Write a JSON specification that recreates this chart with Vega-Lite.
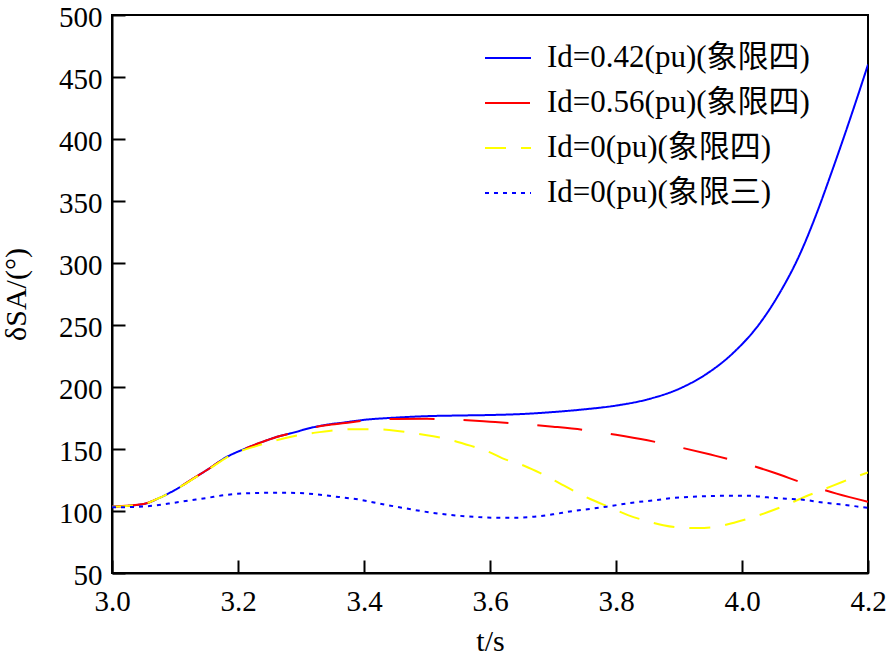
{
  "$schema": "https://vega.github.io/schema/vega-lite/v6.json",
  "autosize": {"type": "none"},
  "width": 756,
  "height": 558,
  "padding": {"left": 112, "top": 15, "right": 23, "bottom": 84},
  "background": "white",
  "config": {
    "font": "Liberation Serif, Noto Sans CJK SC",
    "view": {"stroke": "black", "strokeWidth": 2},
    "axis": {
      "domainColor": "black", "domainWidth": 2,
      "tickColor": "black", "tickWidth": 2, "tickSize": -13,
      "labelFont": "Liberation Serif", "labelFontSize": 29, "labelColor": "black",
      "titleFont": "Liberation Serif", "titleFontSize": 30, "titleFontWeight": "normal", "titleColor": "black",
      "grid": false
    },
    "legend": {
      "labelFont": "Liberation Serif, Noto Sans CJK SC", "labelFontSize": 31, "labelColor": "black", "labelLimit": 500
    }
  },
  "data": {"values": [
    {"s": "Id=0.42(pu)(象限四)", "t": 3.0, "v": 103.5},
    {"s": "Id=0.42(pu)(象限四)", "t": 3.05, "v": 105.6},
    {"s": "Id=0.42(pu)(象限四)", "t": 3.075, "v": 110.5},
    {"s": "Id=0.42(pu)(象限四)", "t": 3.1, "v": 117},
    {"s": "Id=0.42(pu)(象限四)", "t": 3.13, "v": 126.5},
    {"s": "Id=0.42(pu)(象限四)", "t": 3.155, "v": 134.5},
    {"s": "Id=0.42(pu)(象限四)", "t": 3.18, "v": 143},
    {"s": "Id=0.42(pu)(象限四)", "t": 3.21, "v": 150},
    {"s": "Id=0.42(pu)(象限四)", "t": 3.235, "v": 155},
    {"s": "Id=0.42(pu)(象限四)", "t": 3.26, "v": 159.5},
    {"s": "Id=0.42(pu)(象限四)", "t": 3.29, "v": 163.5},
    {"s": "Id=0.42(pu)(象限四)", "t": 3.315, "v": 167},
    {"s": "Id=0.42(pu)(象限四)", "t": 3.34, "v": 169.5},
    {"s": "Id=0.42(pu)(象限四)", "t": 3.37, "v": 171.5},
    {"s": "Id=0.42(pu)(象限四)", "t": 3.4, "v": 173.5},
    {"s": "Id=0.42(pu)(象限四)", "t": 3.45, "v": 175.3},
    {"s": "Id=0.42(pu)(象限四)", "t": 3.5, "v": 176.5},
    {"s": "Id=0.42(pu)(象限四)", "t": 3.55, "v": 177},
    {"s": "Id=0.42(pu)(象限四)", "t": 3.6, "v": 177.4},
    {"s": "Id=0.42(pu)(象限四)", "t": 3.65, "v": 178.2},
    {"s": "Id=0.42(pu)(象限四)", "t": 3.7, "v": 179.8},
    {"s": "Id=0.42(pu)(象限四)", "t": 3.75, "v": 182},
    {"s": "Id=0.42(pu)(象限四)", "t": 3.8, "v": 185},
    {"s": "Id=0.42(pu)(象限四)", "t": 3.85, "v": 190},
    {"s": "Id=0.42(pu)(象限四)", "t": 3.9, "v": 198.5},
    {"s": "Id=0.42(pu)(象限四)", "t": 3.945, "v": 211},
    {"s": "Id=0.42(pu)(象限四)", "t": 3.985, "v": 227},
    {"s": "Id=0.42(pu)(象限四)", "t": 4.03, "v": 252.5},
    {"s": "Id=0.42(pu)(象限四)", "t": 4.06, "v": 276},
    {"s": "Id=0.42(pu)(象限四)", "t": 4.09, "v": 305},
    {"s": "Id=0.42(pu)(象限四)", "t": 4.12, "v": 342},
    {"s": "Id=0.42(pu)(象限四)", "t": 4.14, "v": 370},
    {"s": "Id=0.42(pu)(象限四)", "t": 4.16, "v": 399},
    {"s": "Id=0.42(pu)(象限四)", "t": 4.18, "v": 429},
    {"s": "Id=0.42(pu)(象限四)", "t": 4.2, "v": 460},

    {"s": "Id=0.56(pu)(象限四)", "t": 3.0, "v": 103.5},
    {"s": "Id=0.56(pu)(象限四)", "t": 3.05, "v": 105.6},
    {"s": "Id=0.56(pu)(象限四)", "t": 3.075, "v": 110.5},
    {"s": "Id=0.56(pu)(象限四)", "t": 3.1, "v": 117},
    {"s": "Id=0.56(pu)(象限四)", "t": 3.13, "v": 126.5},
    {"s": "Id=0.56(pu)(象限四)", "t": 3.155, "v": 134.5},
    {"s": "Id=0.56(pu)(象限四)", "t": 3.18, "v": 143},
    {"s": "Id=0.56(pu)(象限四)", "t": 3.21, "v": 150},
    {"s": "Id=0.56(pu)(象限四)", "t": 3.235, "v": 155},
    {"s": "Id=0.56(pu)(象限四)", "t": 3.26, "v": 159.5},
    {"s": "Id=0.56(pu)(象限四)", "t": 3.29, "v": 163.5},
    {"s": "Id=0.56(pu)(象限四)", "t": 3.315, "v": 166.8},
    {"s": "Id=0.56(pu)(象限四)", "t": 3.34, "v": 169.2},
    {"s": "Id=0.56(pu)(象限四)", "t": 3.37, "v": 171},
    {"s": "Id=0.56(pu)(象限四)", "t": 3.4, "v": 172.8},
    {"s": "Id=0.56(pu)(象限四)", "t": 3.45, "v": 174.2},
    {"s": "Id=0.56(pu)(象限四)", "t": 3.5, "v": 174.3},
    {"s": "Id=0.56(pu)(象限四)", "t": 3.55, "v": 173.5},
    {"s": "Id=0.56(pu)(象限四)", "t": 3.6, "v": 172},
    {"s": "Id=0.56(pu)(象限四)", "t": 3.65, "v": 170.3},
    {"s": "Id=0.56(pu)(象限四)", "t": 3.7, "v": 168},
    {"s": "Id=0.56(pu)(象限四)", "t": 3.75, "v": 165.3},
    {"s": "Id=0.56(pu)(象限四)", "t": 3.8, "v": 161.5},
    {"s": "Id=0.56(pu)(象限四)", "t": 3.85, "v": 157},
    {"s": "Id=0.56(pu)(象限四)", "t": 3.9, "v": 151.5},
    {"s": "Id=0.56(pu)(象限四)", "t": 3.95, "v": 145.5},
    {"s": "Id=0.56(pu)(象限四)", "t": 4.0, "v": 139},
    {"s": "Id=0.56(pu)(象限四)", "t": 4.05, "v": 131},
    {"s": "Id=0.56(pu)(象限四)", "t": 4.1, "v": 122},
    {"s": "Id=0.56(pu)(象限四)", "t": 4.15, "v": 114},
    {"s": "Id=0.56(pu)(象限四)", "t": 4.2, "v": 107.5},

    {"s": "Id=0(pu)(象限四)", "t": 3.0, "v": 103.5},
    {"s": "Id=0(pu)(象限四)", "t": 3.05, "v": 105.6},
    {"s": "Id=0(pu)(象限四)", "t": 3.075, "v": 110.5},
    {"s": "Id=0(pu)(象限四)", "t": 3.1, "v": 117},
    {"s": "Id=0(pu)(象限四)", "t": 3.13, "v": 126.3},
    {"s": "Id=0(pu)(象限四)", "t": 3.155, "v": 134.2},
    {"s": "Id=0(pu)(象限四)", "t": 3.18, "v": 142.5},
    {"s": "Id=0(pu)(象限四)", "t": 3.2, "v": 147.5},
    {"s": "Id=0(pu)(象限四)", "t": 3.23, "v": 152.5},
    {"s": "Id=0(pu)(象限四)", "t": 3.26, "v": 157},
    {"s": "Id=0(pu)(象限四)", "t": 3.29, "v": 160.5},
    {"s": "Id=0(pu)(象限四)", "t": 3.32, "v": 163},
    {"s": "Id=0(pu)(象限四)", "t": 3.35, "v": 165},
    {"s": "Id=0(pu)(象限四)", "t": 3.38, "v": 166},
    {"s": "Id=0(pu)(象限四)", "t": 3.41, "v": 166},
    {"s": "Id=0(pu)(象限四)", "t": 3.45, "v": 164.8},
    {"s": "Id=0(pu)(象限四)", "t": 3.48, "v": 162.7},
    {"s": "Id=0(pu)(象限四)", "t": 3.51, "v": 160.2},
    {"s": "Id=0(pu)(象限四)", "t": 3.54, "v": 157},
    {"s": "Id=0(pu)(象限四)", "t": 3.57, "v": 152.5},
    {"s": "Id=0(pu)(象限四)", "t": 3.6, "v": 147.3},
    {"s": "Id=0(pu)(象限四)", "t": 3.62, "v": 142.5},
    {"s": "Id=0(pu)(象限四)", "t": 3.655, "v": 136.3},
    {"s": "Id=0(pu)(象限四)", "t": 3.68, "v": 130.5},
    {"s": "Id=0(pu)(象限四)", "t": 3.71, "v": 122.5},
    {"s": "Id=0(pu)(象限四)", "t": 3.73, "v": 117},
    {"s": "Id=0(pu)(象限四)", "t": 3.76, "v": 109.5},
    {"s": "Id=0(pu)(象限四)", "t": 3.79, "v": 103},
    {"s": "Id=0(pu)(象限四)", "t": 3.82, "v": 96.5},
    {"s": "Id=0(pu)(象限四)", "t": 3.845, "v": 92.5},
    {"s": "Id=0(pu)(象限四)", "t": 3.875, "v": 88.5},
    {"s": "Id=0(pu)(象限四)", "t": 3.9, "v": 86.7},
    {"s": "Id=0(pu)(象限四)", "t": 3.93, "v": 86.3},
    {"s": "Id=0(pu)(象限四)", "t": 3.96, "v": 87.4},
    {"s": "Id=0(pu)(象限四)", "t": 3.99, "v": 91},
    {"s": "Id=0(pu)(象限四)", "t": 4.015, "v": 94.6},
    {"s": "Id=0(pu)(象限四)", "t": 4.05, "v": 100.8},
    {"s": "Id=0(pu)(象限四)", "t": 4.07, "v": 104.8},
    {"s": "Id=0(pu)(象限四)", "t": 4.1, "v": 111.5},
    {"s": "Id=0(pu)(象限四)", "t": 4.13, "v": 117.5},
    {"s": "Id=0(pu)(象限四)", "t": 4.16, "v": 123.6},
    {"s": "Id=0(pu)(象限四)", "t": 4.18, "v": 127.5},
    {"s": "Id=0(pu)(象限四)", "t": 4.2, "v": 131},

    {"s": "Id=0(pu)(象限三)", "t": 3.0, "v": 103},
    {"s": "Id=0(pu)(象限三)", "t": 3.03, "v": 103.2},
    {"s": "Id=0(pu)(象限三)", "t": 3.06, "v": 104},
    {"s": "Id=0(pu)(象限三)", "t": 3.09, "v": 106},
    {"s": "Id=0(pu)(象限三)", "t": 3.12, "v": 108.3},
    {"s": "Id=0(pu)(象限三)", "t": 3.15, "v": 110.5},
    {"s": "Id=0(pu)(象限三)", "t": 3.18, "v": 112.9},
    {"s": "Id=0(pu)(象限三)", "t": 3.22, "v": 114.4},
    {"s": "Id=0(pu)(象限三)", "t": 3.27, "v": 114.8},
    {"s": "Id=0(pu)(象限三)", "t": 3.31, "v": 114.1},
    {"s": "Id=0(pu)(象限三)", "t": 3.36, "v": 111.3},
    {"s": "Id=0(pu)(象限三)", "t": 3.39, "v": 109.4},
    {"s": "Id=0(pu)(象限三)", "t": 3.43, "v": 105.4},
    {"s": "Id=0(pu)(象限三)", "t": 3.46, "v": 102.7},
    {"s": "Id=0(pu)(象限三)", "t": 3.49, "v": 100},
    {"s": "Id=0(pu)(象限三)", "t": 3.52, "v": 97.8},
    {"s": "Id=0(pu)(象限三)", "t": 3.55, "v": 96.2},
    {"s": "Id=0(pu)(象限三)", "t": 3.58, "v": 95.1},
    {"s": "Id=0(pu)(象限三)", "t": 3.61, "v": 94.6},
    {"s": "Id=0(pu)(象限三)", "t": 3.64, "v": 94.6},
    {"s": "Id=0(pu)(象限三)", "t": 3.67, "v": 95.4},
    {"s": "Id=0(pu)(象限三)", "t": 3.7, "v": 97.3},
    {"s": "Id=0(pu)(象限三)", "t": 3.73, "v": 99.8},
    {"s": "Id=0(pu)(象限三)", "t": 3.755, "v": 101.4},
    {"s": "Id=0(pu)(象限三)", "t": 3.785, "v": 103.5},
    {"s": "Id=0(pu)(象限三)", "t": 3.83, "v": 107},
    {"s": "Id=0(pu)(象限三)", "t": 3.86, "v": 108.6},
    {"s": "Id=0(pu)(象限三)", "t": 3.89, "v": 110.5},
    {"s": "Id=0(pu)(象限三)", "t": 3.92, "v": 111.5},
    {"s": "Id=0(pu)(象限三)", "t": 3.95, "v": 112.1},
    {"s": "Id=0(pu)(象限三)", "t": 3.98, "v": 112.3},
    {"s": "Id=0(pu)(象限三)", "t": 4.01, "v": 112.3},
    {"s": "Id=0(pu)(象限三)", "t": 4.04, "v": 111},
    {"s": "Id=0(pu)(象限三)", "t": 4.07, "v": 109.9},
    {"s": "Id=0(pu)(象限三)", "t": 4.1, "v": 108.9},
    {"s": "Id=0(pu)(象限三)", "t": 4.125, "v": 107},
    {"s": "Id=0(pu)(象限三)", "t": 4.155, "v": 105.4},
    {"s": "Id=0(pu)(象限三)", "t": 4.185, "v": 103.5},
    {"s": "Id=0(pu)(象限三)", "t": 4.2, "v": 102.5}
  ]},
  "mark": {"type": "line", "interpolate": "monotone", "strokeWidth": 2, "clip": true},
  "encoding": {
    "x": {
      "field": "t", "type": "quantitative",
      "scale": {"domain": [3.0, 4.2], "nice": false, "zero": false},
      "axis": {"values": [3.0, 3.2, 3.4, 3.6, 3.8, 4.0, 4.2], "format": ".1f", "labelPadding": 27, "title": "t/s", "titlePadding": 10, "labelFlush": false}
    },
    "y": {
      "field": "v", "type": "quantitative",
      "scale": {"domain": [50, 500], "nice": false, "zero": false},
      "axis": {"values": [50, 100, 150, 200, 250, 300, 350, 400, 450, 500], "labelPadding": 23, "labelOffset": 2, "title": "δSA/(°)", "titlePadding": 27}
    },
    "color": {
      "field": "s", "type": "nominal",
      "scale": {
        "domain": ["Id=0.42(pu)(象限四)", "Id=0.56(pu)(象限四)", "Id=0(pu)(象限四)", "Id=0(pu)(象限三)"],
        "range": ["#0000ff", "#ff0000", "#ffff00", "#0000ff"]
      },
      "legend": {
        "title": null, "orient": "none", "legendX": 372, "legendY": 19,
        "symbolType": "stroke", "symbolSize": 2116, "symbolStrokeWidth": 2,
        "labelOffset": 15, "rowPadding": 6
      }
    },
    "strokeDash": {
      "field": "s", "type": "nominal",
      "scale": {
        "domain": ["Id=0.42(pu)(象限四)", "Id=0.56(pu)(象限四)", "Id=0(pu)(象限四)", "Id=0(pu)(象限三)"],
        "range": [[1, 0], [45, 29], [21, 15], [4, 5]]
      },
      "legend": null
    }
  }
}
